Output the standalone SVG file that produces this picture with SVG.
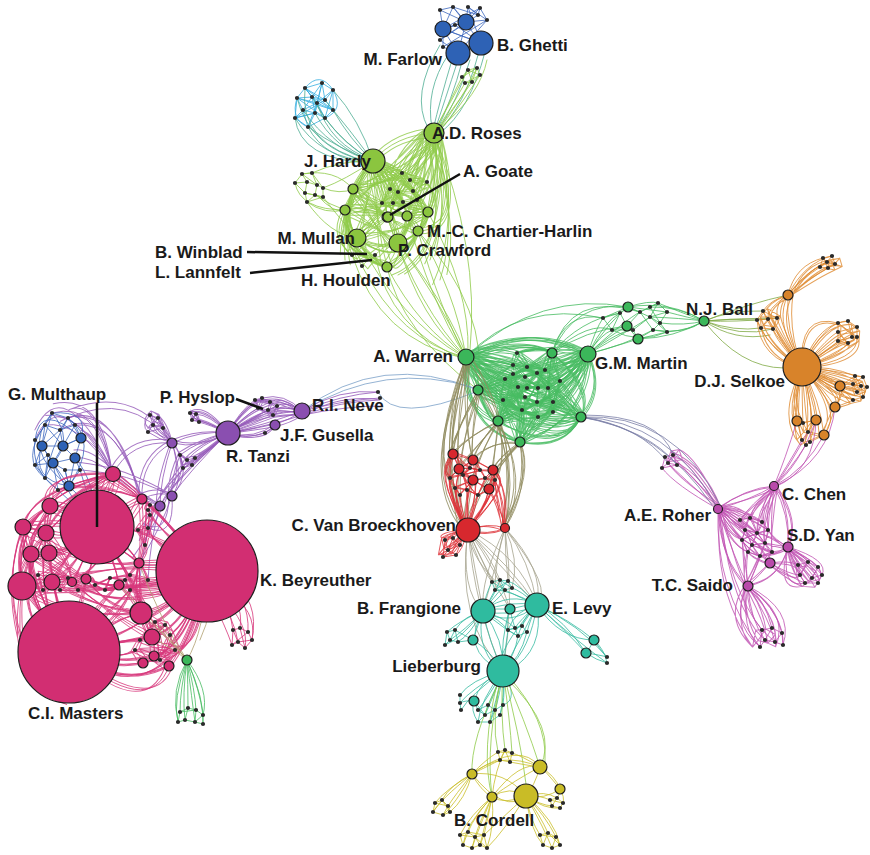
<svg xmlns="http://www.w3.org/2000/svg" width="870" height="855" viewBox="0 0 870 855">
<style>
.e{fill:none;stroke-width:1;stroke-opacity:.8;stroke-linecap:round}
.cy{stroke:#35aee0}.tg{stroke:#4fae93}.bl{stroke:#3d68be}.lg{stroke:#8fca48}.gr{stroke:#47bb62}.og{stroke:#7faa45}.or{stroke:#df8a30}.mg{stroke:#c052b3}.gb{stroke:#7c7fa8}.nb{stroke:#7aa0c8}.ol{stroke:#8e8a5c}.rd{stroke:#dd3036}.gy{stroke:#a6a48e}.tl{stroke:#38bca2}.yl{stroke:#cbbf2a}.pu{stroke:#9457b8}.pk{stroke:#d7367a}.tn{stroke:#b0a070}
.n{stroke:#1e1e1e;stroke-width:1.2}
.b{fill:#2e62b5}.h{fill:#8bc53f}.g{fill:#3bb75a}.o{fill:#d8832a}.r{fill:#d7282e}.t{fill:#2fbb9f}.y{fill:#c9bc26}.p{fill:#d22e72}.v{fill:#8a4fb0}.m{fill:#b94aab}
.dots{fill:none;stroke:#2a2a2a;stroke-width:4.2;stroke-linecap:round}
.lead{stroke:#111;stroke-width:2.5;fill:none}
text{font-family:"Liberation Sans",Arial,sans-serif;font-weight:bold;font-size:17px;fill:#1a1a1a}
</style>
<g id="connectors">
<path class="e cy" d="M305,88L322,83L333,90L325,100L312,97L297,98L303,110L315,113L325,118L333,110L317,103L305,88L312,97L322,83L325,100L333,110 M297,98L305,88L317,103L303,110L295,118L308,127L315,113L317,103L325,118L308,127 M325,118L333,90L317,103L297,98L295,118L315,113L312,97L333,110L333,90 M322,83L317,103L308,127L303,110L312,97L325,118L297,98L333,110L305,88L325,100L295,118L315,113L322,83 M305,88Q320,70 333,90 M297,98Q290,120 308,127 M333,90Q345,110 325,118"/>
<path class="e tg" d="M303,110Q330,150 373,161 M308,127Q340,150 373,161 M325,118Q345,145 373,161 M333,110Q350,140 373,161 M295,118Q320,160 373,161 M315,113Q335,150 373,161 M297,98Q310,150 370,162 M333,90Q360,120 373,161 M325,100Q350,130 373,161 M305,88Q298,145 370,162 M317,103Q330,145 372,160 M308,127Q325,160 371,163 M295,118Q300,160 370,163 M312,97Q335,140 372,160"/>
<path class="e bl" d="M440,10L466,22L453,7L481,43L468,7L487,20L458,53L443,29L480,8L478,15L440,40L466,22L487,20L443,47L458,53L481,43L443,29L466,22 M440,10L443,29L453,7L478,15L468,7L466,22L480,8L487,20 M440,40L458,53L466,22 M443,47L443,29L481,43 M440,10L453,7 M455,25L466,22L443,29L455,25L481,43"/>
<path class="e tg" d="M458,60Q445,100 434,133 M462,62Q452,100 436,132 M470,60Q458,100 437,132 M478,55Q465,105 438,132 M485,52Q470,110 440,133 M448,55Q425,90 432,128 M440,45Q410,95 428,128 M452,60Q440,100 433,130"/>
<path class="e lg" d="M462,77L468,70L477,68L480,75L472,82L465,83L462,77L477,68L472,82L468,70L480,75L465,83 M462,77Q448,105 434,133 M472,82Q452,110 436,132 M480,75Q458,110 438,133 M477,68Q462,100 437,132 M465,83Q450,110 435,133 M468,70Q452,100 434,131 M440,128Q480,95 487,60"/>
<path id="hardy" class="e lg" d="M373,161Q355,180 353,189 M373,161Q352,190 345,210 M373,161Q385,190 387,217 M373,161Q400,185 407,216 M373,161Q415,180 428,212 M373,161Q405,205 418,231 M373,161Q370,200 357,238 M373,161Q395,210 398,243 M373,161Q375,220 387,267 M373,161Q390,165 402,173 M373,161Q395,175 413,191 M373,161Q400,170 427,182 M373,161Q378,185 382,203 M373,161Q390,185 393,203 M373,161Q396,180 403,202 M373,161Q410,185 417,200 M434,133Q395,135 373,161 M434,133Q405,165 353,189 M434,133Q390,170 345,210 M434,133Q410,180 387,217 M434,133Q420,180 407,216 M434,133Q440,175 428,212 M434,133Q445,200 418,231 M434,133Q405,195 357,238 M434,133Q430,200 398,243 M434,133Q420,150 402,173 M434,133Q425,165 413,191 M434,133Q435,160 427,182 M434,133Q410,170 393,203 M434,133Q455,190 430,260 M434,133Q460,220 440,280 M434,133Q400,150 390,189 M434,133Q415,160 410,180 M353,189Q370,200 387,217 M353,189Q380,185 402,173 M345,210Q370,205 387,217 M345,210Q380,230 398,243 M345,210Q350,225 357,238 M357,238Q380,225 387,217 M357,238Q380,250 398,243 M357,238Q375,265 387,267 M387,217Q395,230 398,243 M407,216Q405,230 398,243 M428,212Q420,225 418,231 M418,231Q410,240 398,243 M387,217Q400,210 407,216 M407,216Q420,210 428,212 M387,267Q395,255 398,243 M387,267Q410,255 418,231 M353,189Q375,200 382,203 M382,203Q395,210 407,216 M393,203Q410,205 428,212 M403,202Q395,215 387,217 M417,200Q410,225 398,243 M390,189Q375,220 357,238 M398,192Q420,200 428,212 M413,191Q430,210 418,231 M427,182Q440,200 428,212 M402,173Q390,180 390,189 M410,180Q425,190 427,182 M362,266Q375,250 387,267 M352,255Q370,245 357,238 M375,255Q390,240 398,243 M345,210Q330,240 352,255 M353,189Q340,240 362,266 M345,210Q350,260 387,267 M353,189Q400,230 418,231 M345,210Q420,220 428,212 M357,238Q410,230 428,212 M357,238Q400,270 418,231 M373,161Q320,230 387,267 M434,133Q470,230 418,231 M353,189Q330,250 387,267 M345,210Q340,260 375,255 M402,173L410,180L427,182L413,191L398,192L390,189L402,173L413,191L417,200L403,202L393,203L382,203L390,189L403,202L398,192L393,203 M417,200L427,182 M382,203L398,192 M353,189Q395,260 398,243 M418,231Q395,275 387,267 M398,243Q430,230 428,212 M373,161Q340,215 345,260 M434,133Q450,250 398,275 M353,189Q420,180 434,133 M345,210Q400,200 428,212"/>
<use href="#hardy" transform="rotate(6 392 212)"/>
<use href="#hardy" transform="rotate(-6 392 212)"/>
<path class="e lg" d="M302,174L312,173L317,185L307,182L295,183L305,193L315,195L323,197L307,202L305,193L307,182L302,174L295,183 M312,173L323,188L317,185L315,195L307,202 M323,188L323,197L305,193 M302,174L317,185 M323,188Q340,195 353,189 M317,195Q335,215 345,210 M323,197Q345,225 357,238 M307,202Q330,235 357,238 M312,173Q340,160 373,161 M302,174Q335,168 353,189 M323,188Q345,180 373,161 M315,195Q330,205 345,210 M307,202Q325,215 345,210 M295,183Q300,210 345,210"/>
<path class="e lg" d="M387,267Q420,330 466,357 M398,243Q440,300 466,357 M418,231Q455,290 466,357 M428,212Q470,290 468,352 M407,216Q430,300 465,356 M357,238Q400,320 462,356 M375,255Q390,330 462,358 M362,266Q400,340 464,357 M387,267Q400,330 478,390 M398,243Q460,320 478,390 M418,231Q490,310 478,390 M434,133Q480,250 470,350 M352,255Q380,340 463,358 M387,217Q420,310 466,357 M398,243Q420,320 466,357 M418,231Q440,310 466,357"/>
<path id="cgreen" class="e gr" d="M466,357Q490,345 517,353 M466,357Q495,355 527,367 M466,357Q490,365 513,374 M466,357Q495,370 525,377 M466,357Q500,360 537,373 M466,357Q505,355 545,370 M466,357Q485,372 505,379 M466,357Q490,380 518,387 M466,357Q495,385 527,388 M466,357Q500,380 538,388 M466,357Q505,375 548,388 M466,357Q510,365 560,381 M466,357Q490,390 525,397 M466,357Q495,395 537,402 M466,357Q510,390 553,402 M466,357Q485,400 522,410 M466,357Q500,405 538,417 M466,357Q515,395 553,412 M466,357Q480,385 503,400 M466,357Q490,360 513,365 M588,354Q555,345 517,353 M588,354Q560,360 527,367 M588,354Q550,365 513,374 M588,354Q555,372 525,377 M588,354Q565,365 537,373 M588,354Q570,362 545,370 M588,354Q550,375 505,379 M588,354Q555,380 518,387 M588,354Q560,385 527,388 M588,354Q565,380 538,388 M588,354Q570,378 548,388 M588,354Q575,370 560,381 M588,354Q560,390 525,397 M588,354Q565,395 537,402 M588,354Q575,390 553,402 M588,354Q560,400 522,410 M588,354Q570,405 538,417 M588,354Q580,395 553,412 M588,354Q545,385 503,400 M581,417Q550,395 517,353 M581,417Q555,385 527,367 M581,417Q550,400 513,374 M581,417Q560,390 537,373 M581,417Q565,395 548,388 M581,417Q570,395 560,381 M581,417Q555,410 525,397 M581,417Q560,405 537,402 M581,417Q570,410 553,402 M581,417Q555,420 522,410 M581,417Q560,420 538,417 M581,417Q545,405 503,400 M581,417Q560,400 518,387 M552,353Q535,345 517,353 M552,353Q540,360 527,367 M552,353Q540,375 537,388 M552,353Q550,370 548,388 M552,353Q555,365 560,381 M552,353Q530,370 513,374 M552,353Q535,390 522,410 M552,353Q545,395 553,412 M478,390Q495,375 513,365 M478,390Q495,380 513,374 M478,390Q495,385 505,379 M478,390Q500,385 518,387 M478,390Q500,395 525,397 M478,390Q510,395 537,402 M478,390Q490,400 503,400 M478,390Q500,405 522,410 M478,390Q510,410 538,417 M478,390Q520,385 548,388 M478,390Q520,375 545,370 M498,421Q505,405 503,400 M498,421Q510,410 522,410 M498,421Q515,420 538,417 M498,421Q520,405 537,402 M498,421Q510,400 518,387 M498,421Q520,395 527,388 M498,421Q525,410 553,412 M498,421Q500,395 505,379 M498,421Q510,390 513,374 M498,421Q525,385 537,373 M520,442Q520,425 522,410 M520,442Q530,425 538,417 M520,442Q540,425 553,412 M520,442Q525,420 525,397 M520,442Q535,420 537,402 M520,442Q510,420 503,400 M520,442Q545,420 553,402 M520,442Q525,410 518,387 M520,442Q540,410 548,388 M520,442Q520,400 513,365 M517,353L527,367L545,370L537,373L525,377L513,374L505,379L518,387L527,388L538,388L548,388L560,381L553,402L537,402L525,397L503,400L522,410L538,417L553,412L553,402L548,388L537,373L527,367L513,365L517,353L545,370L560,381L553,412 M513,365L525,377L538,388L537,402L522,410L505,379L527,388L537,373 M518,387L525,397L538,417 M503,400L518,387L513,374L527,367 M466,357Q525,325 588,354 M466,357Q527,335 552,353 M466,357Q530,320 588,354 M466,357Q465,430 520,442 M466,357Q460,410 498,421 M478,390Q490,430 520,442 M520,442Q565,450 581,417 M498,421Q555,455 581,417 M588,354Q605,390 581,417 M552,353Q595,390 581,417 M466,357Q540,445 581,417 M498,421Q560,400 588,354 M520,442Q590,420 588,354 M466,357Q475,375 478,390 M478,390Q485,410 498,421 M466,357Q530,340 552,353 M552,353Q570,345 588,354 M466,357Q520,450 581,417 M478,390Q560,460 581,417"/>
<use href="#cgreen" transform="rotate(5 530 392)"/>
<use href="#cgreen" transform="rotate(-5 530 392)"/>
<path class="e gr" d="M588,354Q595,330 603,318 M588,354Q600,335 612,330 M588,354Q605,320 620,313 M588,354Q610,320 628,307 M588,354Q610,335 627,326 M588,354Q620,345 638,339 M588,354Q620,330 633,330 M588,354Q625,320 640,312 M588,354Q630,330 650,317 M588,354Q625,345 653,330 M552,353Q565,310 603,318 M552,353Q575,300 628,307 M552,353Q590,320 612,330 M552,353Q580,320 620,313 M552,353Q585,330 627,326 M466,357Q520,300 603,318 M603,318L620,313L628,307L640,312L650,307L658,303L667,312L660,323L667,332L653,330L638,339L633,330L627,326L612,330L603,318L628,307L650,317L660,323L653,330L640,312L627,326L620,313L612,330L633,330L650,317L658,303L640,312 M628,307L667,312L650,317L667,332L638,339L627,326 M650,307L660,323 M628,307Q650,300 658,303 M612,330Q640,345 667,332 M667,312Q690,318 704,321 M660,323Q685,326 704,321 M658,303Q680,312 704,321 M667,332Q690,330 704,321 M650,317Q680,318 704,321 M638,339Q675,338 704,321 M650,307Q680,306 704,321 M628,307Q670,300 704,321 M653,330Q685,335 704,321 M552,353Q570,290 640,312 M466,357Q540,290 628,307"/>
<path class="e og" d="M704,321Q730,318 757,320 M704,321Q735,332 761,328 M704,321Q730,310 763,311 M704,321Q738,322 768,319 M704,321Q740,338 773,329 M704,321Q742,318 777,318 M704,321Q740,368 784,368 M704,321Q750,303 788,295 M704,321Q735,342 770,335"/>
<path id="orng" class="e or" d="M802,368Q785,330 788,295 M795,352Q775,320 788,295 M788,295Q795,265 823,258 M788,295Q805,262 832,256 M788,295Q815,275 828,268 M788,295Q800,280 820,267 M788,295Q815,260 835,264 M788,295Q810,268 827,262 M823,258L832,256L835,264L828,268L820,267L823,258L827,262L835,264 M832,256L827,262L820,267 M823,258L828,268 M802,368Q770,350 761,328 M802,368Q775,340 773,329 M802,368Q780,330 777,318 M802,368Q765,345 757,320 M802,368Q778,335 768,319 M802,368Q770,330 763,311 M788,295Q775,300 777,318 M788,295Q770,300 763,311 M788,295Q765,310 768,319 M763,311L768,319L777,318L773,329L761,328L757,320L763,311L777,318 M757,320L768,319L773,329 M761,328L768,319 M802,368Q760,360 757,320 M802,368Q815,330 838,323 M802,368Q830,335 838,332 M802,368Q835,345 838,341 M802,368Q825,320 848,321 M802,368Q840,340 852,337 M802,368Q845,330 857,327 M802,368Q845,350 857,337 M802,368Q840,355 848,343 M802,368Q798,312 838,323 M802,368Q860,360 857,337 M838,323L848,321L857,327L857,337L848,343L838,341L838,332L838,323L857,337 M848,321L852,337L838,341 M838,332L857,327 M838,332L848,343 M802,368Q825,372 840,386 M802,368Q830,365 855,376 M802,368Q835,370 863,377 M802,368Q830,380 853,384 M802,368Q835,385 861,386 M802,368Q840,390 857,392 M802,368Q840,395 863,397 M802,368Q830,395 853,400 M802,368Q840,375 867,387 M855,376L863,377L867,387L863,397L853,400L840,386L855,376L861,386L853,384L857,392L867,387 M853,384L863,377 M840,386L857,392 M861,386L863,397 M802,368Q825,390 835,407 M802,368Q795,400 797,421 M802,368Q812,395 816,420 M802,368Q820,400 824,435 M802,368Q790,400 803,423 M802,368Q805,410 808,432 M802,368Q795,420 802,440 M802,368Q815,410 810,442 M802,368Q845,410 824,435 M802,368Q850,395 835,407 M802,368Q780,420 806,445 M797,421L803,423L816,420L808,432L824,435L810,442L806,445L802,440L797,421 M803,423L808,432L802,440 M816,420L810,442 M835,407Q845,395 840,386 M835,407Q850,402 853,400 M835,407Q830,425 824,435"/>
<use href="#orng" transform="rotate(4 802 368)"/>
<path class="e mg" d="M797,421Q785,460 774,486 M816,420Q800,465 774,486 M824,435Q805,470 776,485 M808,432Q790,465 775,486 M806,445Q790,470 774,486 M835,407Q830,460 776,486 M802,440Q785,470 774,486 M816,420Q815,470 775,487"/>
<path id="roher" class="e mg" d="M718,509Q730,512 740,520 M718,509Q735,505 750,518 M718,509Q740,508 762,522 M718,509Q730,525 745,530 M718,509Q740,522 757,533 M718,509Q745,515 768,530 M718,509Q725,535 742,540 M718,509Q735,538 752,545 M718,509Q745,530 765,543 M718,509Q745,540 772,552 M718,509Q728,545 748,552 M718,509Q740,545 760,556 M774,486Q755,500 750,518 M774,486Q760,505 762,522 M774,486Q765,510 768,530 M774,486Q750,505 740,520 M774,486Q755,515 757,533 M774,486Q770,520 772,552 M774,486Q760,525 765,543 M774,486Q745,515 745,530 M718,509Q745,488 774,486 M718,509Q750,500 774,486 M774,486Q790,515 788,547 M774,486Q800,520 788,547 M740,520L750,518L762,522L768,530L757,533L745,530L740,520L757,533L765,543L772,552L760,556L748,552L742,540L745,530L752,545L765,543L768,530 M750,518L757,533L752,545L760,556 M742,540L757,533L762,522 M748,552L752,545L772,552 M788,547Q775,540 768,530 M788,547Q775,545 765,543 M788,547Q780,552 772,552 M788,547Q775,555 760,556 M788,547Q770,535 757,533 M788,547Q795,555 798,565 M788,547Q800,552 808,562 M788,547Q805,555 818,567 M788,547Q810,560 822,575 M788,547Q800,565 812,578 M788,547Q792,565 800,575 M788,547Q798,575 805,583 M788,547Q810,570 818,583 M788,547Q830,560 822,575 M788,547Q780,590 805,583 M798,565L808,562L818,567L822,575L818,583L805,583L800,575L798,565L812,578L818,567 M808,562L800,575 M812,578L805,583 M812,578L822,575 M770,563Q790,560 798,565 M770,563Q790,575 800,575 M770,563Q795,580 805,583 M770,563Q765,555 760,556 M770,563Q768,555 772,552 M770,563Q755,560 748,552 M748,586Q745,570 748,552 M748,586Q755,570 760,556 M748,586Q760,575 770,563 M748,586Q745,560 742,540 M748,586Q760,560 765,543 M748,586Q745,610 762,630 M748,586Q765,600 772,628 M748,586Q775,605 782,633 M748,586Q750,620 765,640 M748,586Q770,620 775,642 M748,586Q785,615 783,645 M748,586Q740,630 760,647 M748,586Q728,620 760,647 M748,586Q795,610 783,645 M762,630L772,628L782,633L783,645L775,642L765,640L760,647L762,630L775,642 M772,628L765,640 M782,633L775,642 M718,509Q720,560 748,586 M718,509Q735,560 748,586 M718,509Q760,540 770,563 M718,509Q715,590 760,647 M718,509Q730,590 762,630 M788,547Q780,580 748,586 M718,509Q690,470 677,465 M718,509Q680,475 668,463 M718,509Q690,460 673,455 M718,509Q675,485 662,468 M718,509Q700,470 665,457 M665,457L673,455L677,465L668,463L662,468L665,457L668,463L673,455 M677,465L662,468"/>
<use href="#roher" transform="rotate(4 755 540)"/>
<path class="e gb" d="M581,417Q670,420 718,509 M581,417Q660,428 712,505 M581,417Q650,430 677,465 M583,415Q660,415 673,455 M581,417Q640,425 668,463 M581,417Q675,412 720,505"/>
<path class="e nb" d="M302,411Q380,350 478,390 M378,392Q395,425 478,391 M302,411Q385,360 475,388"/>
<path id="olive" class="e ol" d="M466,357Q432,450 468,530 M466,357Q440,455 462,525 M466,357Q448,430 453,454 M466,357Q455,430 459,469 M466,357Q462,420 473,460 M478,390Q455,430 453,454 M478,390Q470,440 473,460 M478,390Q448,480 468,530 M498,421Q470,435 453,454 M498,421Q480,440 473,460 M498,421Q495,450 493,470 M498,421Q470,455 459,469 M520,442Q490,440 473,460 M520,442Q500,455 493,470 M520,442Q495,470 489,489 M520,442Q530,490 505,528 M498,421Q530,480 505,528 M466,357Q525,440 505,528 M478,390Q520,450 505,528 M520,442Q480,480 468,530 M498,421Q510,470 489,489 M466,357Q420,470 462,525 M466,357Q428,460 455,488 M478,390Q440,460 450,478 M520,442Q535,470 505,528 M498,421Q465,480 468,530"/>
<use href="#olive" transform="rotate(3 485 445)"/>
<path id="red" class="e rd" d="M453,454L473,460L493,470L489,489L473,480L459,469L453,454L463,475L480,470L485,478L473,480L455,488L450,478L459,469L473,460L480,470L493,470L495,480L489,489L478,495L467,490L455,488L460,495L473,480L463,475L473,460 M470,468L459,469 M470,468L480,470 M470,468L463,475 M485,478L495,480 M450,478L463,475L467,490L478,495L485,478L493,470 M453,454Q440,475 450,478 M453,454Q465,470 480,470 M459,469Q470,490 478,495 M468,530Q455,500 455,488 M468,530Q460,505 460,495 M468,530Q468,505 467,490 M468,530Q475,510 478,495 M468,530Q485,510 489,489 M468,530Q465,495 473,480 M468,530Q445,490 450,478 M468,530Q440,480 453,454 M468,530Q490,500 495,480 M468,530Q500,490 493,470 M468,530Q480,490 473,460 M468,530Q430,470 453,454 M468,530Q515,480 493,470 M468,530Q450,500 459,469 M468,530Q488,522 505,528 M468,530Q488,536 505,528 M505,528Q500,505 489,489 M505,528Q505,500 495,480 M505,528Q495,490 493,470 M505,528Q510,490 493,470 M468,530Q455,535 453,538 M468,530Q450,535 445,540 M468,530Q462,540 460,545 M468,530Q455,548 448,550 M468,530Q462,552 456,555 M468,530Q452,555 443,557 M468,530Q440,535 445,540 M445,540L453,538L460,545L456,555L448,550L443,557L445,540L448,550L460,545 M453,538L448,550 M456,555L443,557"/>
<use href="#red" transform="rotate(4 472 490)"/>
<path class="e gy" d="M468,530Q475,570 483,611 M468,530Q495,560 537,605 M468,530Q485,570 510,609 M468,530Q475,610 503,671 M505,528Q530,560 537,605 M505,528Q495,570 483,611 M505,528Q515,600 503,671 M468,530Q520,555 537,605 M468,530Q482,560 492,582 M468,530Q490,555 500,580 M505,528Q505,555 508,581 M505,528Q495,560 495,590 M468,530Q460,590 483,611 M505,528Q545,570 537,605 M468,530Q470,560 505,590 M468,530Q455,620 503,671 M505,528Q555,590 537,605 M505,528Q520,560 512,588 M468,530Q500,575 510,609 M505,528Q480,580 483,611 M468,530Q510,565 537,605 M468,530Q478,565 492,582"/>
<path class="e tl" d="M492,582L500,580L508,581L512,588L505,590L495,590L492,582L505,590L500,580L512,588 M508,581L495,590 M483,611Q485,595 492,582 M483,611Q495,595 500,580 M483,611Q498,600 505,590 M483,611Q490,600 495,590 M483,611Q500,590 508,581 M537,605Q520,590 512,588 M537,605Q520,585 508,581 M537,605Q515,595 505,590 M537,605Q510,590 495,590 M483,611Q510,600 537,605 M483,611Q510,618 537,605 M483,611Q510,628 537,605 M483,611Q497,608 510,609 M510,609Q523,605 537,605 M483,611Q510,590 537,605 M483,611Q465,615 455,630 M483,611Q460,620 447,632 M483,611Q465,630 450,640 M483,611Q470,635 458,642 M483,611Q460,640 445,645 M483,611Q478,625 473,640 M447,632L455,630L458,642L450,640L445,645L447,632L450,640 M455,630L473,640L458,642 M455,630L450,640 M483,611Q500,620 508,630 M483,611Q505,618 515,628 M483,611Q505,630 518,636 M537,605Q525,615 522,626 M537,605Q530,620 527,632 M537,605Q520,620 515,628 M537,605Q520,625 518,636 M537,605Q515,610 508,630 M508,630L515,628L522,626L527,632L518,636L508,630L522,626 M515,628L518,636 M510,609Q512,620 515,628 M510,609Q505,620 508,630 M483,611Q490,645 503,671 M483,611Q505,640 503,671 M483,611Q475,645 497,668 M537,605Q520,640 503,671 M537,605Q530,650 508,668 M537,605Q505,640 500,662 M510,609Q500,640 503,671 M473,640Q490,650 503,671 M518,636Q515,655 503,671 M527,632Q520,660 503,671 M508,630Q505,650 503,671 M483,611Q460,650 500,670 M537,605Q545,650 510,670 M537,605Q570,620 594,640 M537,605Q565,630 586,653 M537,605Q580,625 607,657 M537,605Q575,640 607,663 M537,605Q560,640 594,640 M537,605Q565,620 586,653 M594,640Q600,650 607,657 M586,653Q596,660 607,663 M594,640Q590,648 586,653 M594,640Q605,650 607,663 M586,653Q600,655 607,657 M503,671Q495,690 488,705 M503,671Q490,695 478,710 M503,671Q500,695 495,710 M503,671Q492,700 485,715 M503,671Q505,695 500,715 M503,671Q495,705 490,722 M503,671Q480,700 478,722 M503,671Q505,690 503,705 M503,671Q480,680 474,701 M503,671Q470,680 460,695 M503,671Q470,690 460,703 M503,671Q470,695 461,710 M503,671Q520,700 503,705 M478,710L488,705L495,710L503,705L500,715L490,722L478,722L485,715L478,710 M488,705L485,715L495,710L490,722 M474,701L478,710 M474,701L485,715 M460,695L460,703L461,710 M474,701Q465,700 460,703 M474,701Q470,710 478,722"/>
<path class="e lg" d="M503,671Q525,720 540,767 M503,671Q500,715 505,750 M503,671Q490,720 498,752 M503,671Q485,740 492,797 M503,671Q520,735 526,784 M508,676Q548,720 545,762 M503,671Q510,720 512,753 M500,680Q470,740 472,774 M506,678Q560,730 540,767 M498,680Q480,750 492,797"/>
<path class="e yl" d="M498,752L505,750L512,753L510,762L500,760L498,752L512,753 M505,750L500,760 M505,750L510,762 M472,774Q485,760 498,752 M472,774Q490,765 500,760 M472,774Q505,770 526,796 M472,774Q500,750 540,767 M472,774Q480,790 492,797 M540,767Q520,755 512,753 M540,767Q525,765 510,762 M540,767Q535,785 526,796 M540,767Q555,775 560,789 M540,767Q515,780 492,797 M492,797Q510,785 526,796 M492,797Q505,805 526,796 M492,797Q495,770 505,750 M472,774Q450,785 442,800 M472,774Q445,790 435,803 M472,774Q455,795 448,806 M472,774Q440,800 433,812 M472,774Q455,805 443,815 M472,774Q465,800 450,812 M435,803L442,800L448,806L450,812L443,815L433,812L435,803L448,806L443,815 M442,800L433,812 M442,800L450,812 M492,797Q470,815 460,835 M492,797Q475,815 468,832 M492,797Q480,820 475,837 M492,797Q488,818 484,835 M492,797Q465,825 463,845 M492,797Q478,830 472,848 M492,797Q485,825 480,845 M492,797Q495,825 487,848 M460,835L468,832L475,837L484,835L487,848L480,845L472,848L463,845L460,835L475,837L480,845 M468,832L463,845 M484,835L480,845 M472,848L475,837L487,848 M468,832L484,835 M526,796Q530,820 540,835 M526,796Q540,815 548,833 M526,796Q545,815 556,837 M526,796Q530,830 543,845 M526,796Q545,830 552,848 M526,796Q555,820 560,845 M540,835L548,833L556,837L560,845L552,848L543,845L540,835L556,837L552,848 M548,833L543,845 M548,833L560,845 M526,796Q540,795 550,800 M526,796Q545,790 557,798 M526,796Q540,805 552,806 M526,796Q545,810 560,808 M560,789Q560,795 557,798 M560,789Q565,797 563,803 M550,800L557,798L563,803L560,808L552,806L550,800L563,803 M557,798L552,806 M526,796Q500,820 484,835 M526,796Q505,830 487,848 M472,774Q520,740 540,767 M492,797Q520,760 540,767 M472,774Q505,815 526,796 M560,789Q545,770 540,767 M560,789Q545,800 526,796"/>
<path id="purp" class="e pu" d="M228,433Q265,410 302,411 M228,433Q265,425 302,411 M228,433Q270,400 302,411 M228,433Q240,410 255,400 M228,433Q245,405 262,398 M228,433Q250,410 270,402 M228,433Q245,415 258,408 M228,433Q250,420 268,410 M228,433Q255,415 277,406 M228,433Q250,425 273,415 M302,411Q285,400 277,406 M302,411Q280,395 270,402 M302,411Q285,412 273,415 M302,411Q280,405 268,410 M302,411Q285,392 262,398 M302,411Q280,398 255,400 M302,411Q290,420 275,424 M228,433Q250,430 275,424 M228,433Q255,440 275,424 M228,433Q245,440 265,433 M275,424Q270,430 265,433 M255,400L262,398L270,402L277,406L273,415L268,410L258,408L255,400L270,402L268,410L277,406 M262,398L258,408L273,415 M228,433Q210,415 196,414 M228,433Q205,420 192,420 M228,433Q210,425 199,422 M228,433Q205,405 190,413 M190,413L196,414L199,422L192,420L190,413L199,422 M196,414L192,420 M228,433Q200,430 172,443 M228,433Q200,450 172,443 M172,443Q160,430 163,428 M172,443Q158,425 158,418 M172,443Q155,435 153,425 M172,443Q160,440 148,432 M172,443Q165,420 150,415 M150,415L158,418L163,428L148,432L153,425L150,415 M158,418L153,425L163,428 M150,415Q140,425 148,432 M228,433Q200,445 187,460 M228,433Q205,455 192,465 M228,433Q200,460 183,468 M228,433Q210,450 195,458 M228,433Q200,440 180,455 M180,455L187,460L195,458L192,465L183,468L180,455L192,465 M187,460L183,468 M228,433Q190,470 172,496 M228,433Q180,470 160,506 M172,443Q185,480 172,496 M172,443Q160,480 160,506 M172,443Q195,470 172,496 M180,455Q170,480 172,496 M183,468Q168,490 160,506 M172,496Q140,480 113,474 M160,506Q130,490 113,474 M172,496Q160,530 139,563 M160,506Q150,520 145,545 M172,496Q160,490 142,499 M160,506Q145,500 142,499 M160,506Q150,540 148,580 M172,496Q175,540 148,528 M172,443Q130,440 113,474 M172,443Q140,460 142,499 M113,474Q100,400 52,413 M113,474Q95,405 68,418 M113,474Q80,420 45,425 M113,474Q60,380 35,440 M113,474Q95,440 81,438 M113,474Q90,455 75,458 M142,499Q120,420 75,425 M142,499Q110,400 60,430 M113,474Q85,470 80,470 M172,443Q130,390 68,418 M302,411Q340,388 378,392 M302,411Q345,400 380,398 M302,411Q340,395 378,392"/>
<use href="#purp" transform="rotate(3 228 433)"/>
<path class="e bl" d="M42,446L63,446L81,438L75,458L53,463L42,446L52,413L68,418L81,438L63,446L53,463L69,486L75,458L63,446L45,425L60,430L75,425L81,438 M35,440L42,446L48,455L35,465L53,463L65,470L80,470L75,458 M45,478L53,463L58,490L69,486L65,470 M52,413L45,425L35,440 M68,418L60,430L63,446L75,425L68,418 M35,465L45,478L58,490 M48,455L53,463 M42,446L35,465 M60,430L42,446 M45,425L42,446 M48,455L45,478 M65,470L69,486L80,470 M69,486Q20,450 52,413 M81,438Q40,400 35,440 M69,486Q100,440 68,418 M42,446Q30,480 69,486 M52,413Q90,410 81,438 M35,440Q30,470 58,490 M45,425Q20,460 45,478 M69,486Q85,500 97,527 M75,458Q95,480 97,527 M53,463Q70,500 97,527 M80,470Q90,500 97,527 M58,490Q80,510 97,527 M52,413Q75,440 53,463 M68,418Q50,450 45,478"/>
<path id="pink" class="e pk" d="M97,527Q60,500 50,506 M97,527Q60,520 23,527 M97,527Q70,540 46,533 M97,527Q60,560 31,554 M97,527Q75,555 49,553 M97,527Q50,580 22,586 M97,527Q70,575 52,582 M97,527Q80,570 72,582 M97,527Q95,560 86,579 M97,527Q115,560 119,585 M97,527Q125,540 139,563 M97,527Q125,505 142,499 M97,527Q120,480 113,474 M97,527Q140,590 141,613 M97,527Q150,600 152,637 M207,571Q170,560 139,563 M207,571Q160,590 119,585 M207,571Q140,600 86,579 M207,571Q130,620 72,582 M207,571Q170,610 141,613 M207,571Q180,630 152,637 M207,571Q185,650 154,656 M207,571Q175,660 143,663 M207,571Q190,640 169,666 M207,571Q160,510 142,499 M207,571Q150,500 113,474 M207,571Q100,600 22,586 M207,571Q120,560 52,582 M207,571Q140,520 97,527 M207,571Q150,545 148,528 M207,571Q160,530 150,515 M207,571Q165,580 148,580 M207,571Q170,600 130,590 M207,571Q165,620 155,622 M207,571Q190,620 170,635 M207,571Q200,650 175,650 M207,571Q190,665 160,660 M69,652Q100,600 119,585 M69,652Q110,620 141,613 M69,652Q120,640 152,637 M69,652Q120,665 154,656 M69,652Q110,670 143,663 M69,652Q120,690 169,666 M69,652Q40,610 22,586 M69,652Q60,610 52,582 M69,652Q80,610 86,579 M69,652Q150,630 207,571 M69,652Q30,580 31,554 M69,652Q50,570 49,553 M69,652Q20,560 23,527 M69,652Q130,620 139,563 M69,652Q120,600 130,590 M69,652Q125,660 135,650 M69,652Q130,640 140,640 M69,652Q140,700 175,650 M50,506Q0,580 69,652 M23,527Q-5,600 40,690 M113,474Q10,500 22,586 M113,474Q40,470 50,506 M113,474Q30,490 23,527 M113,474Q60,500 46,533 M142,499Q60,470 50,506 M50,506Q30,600 69,652 M22,586Q10,680 60,702 M69,652Q150,720 169,666 M50,506Q10,530 22,586 M113,474Q20,520 31,554 M142,499Q90,470 113,474 M113,474Q5,560 22,586 M46,533Q0,620 69,652 M23,527Q35,528 46,533 M31,554Q40,552 49,553 M46,533Q48,543 49,553 M23,527Q25,540 31,554 M22,586Q35,583 52,582 M31,554Q25,570 22,586 M49,553Q52,570 52,582 M52,582Q62,582 72,582 M72,582Q80,580 86,579 M86,579Q100,585 119,585 M119,585Q130,575 139,563 M139,563Q140,590 141,613 M141,613Q148,625 152,637 M152,637Q155,645 154,656 M154,656Q150,662 143,663 M154,656Q162,662 169,666 M50,506Q35,515 23,527 M50,506Q48,520 46,533 M142,499Q145,530 139,563 M113,474Q130,485 142,499 M22,586Q40,600 52,582 M49,553Q70,570 86,579 M46,533Q70,560 72,582 M31,554Q60,570 72,582 M119,585Q135,600 141,613 M139,563Q130,600 152,637 M86,579Q110,610 141,613 M72,582Q110,615 152,637 M52,582Q100,610 141,613 M68,578L78,590L95,585L105,590L110,578L125,580L130,590L148,580L130,575L110,578L95,585 M60,590L68,578 M38,575L43,590L60,590L78,590 M38,575L68,578 M125,580L148,580 M155,622L165,625L170,635L175,650L160,660L135,650L140,640L155,622L170,635L160,660 M140,640L165,625 M135,650L175,650 M140,640L175,650 M155,622L160,660 M145,545L148,528L138,530L150,515L148,510L150,505 M138,530L145,545L150,515 M148,528L150,505 M86,579Q95,575 95,585 M119,585Q115,592 105,590 M139,563Q145,570 148,580 M141,613Q150,618 155,622 M152,637Q162,630 165,625 M154,656Q165,655 175,650 M143,663Q140,655 135,650 M142,499Q148,505 150,505 M139,563Q148,550 145,545 M22,586Q60,620 141,613 M31,554Q90,600 119,585 M23,527Q80,570 139,563 M50,506Q110,540 139,563 M113,474Q90,520 52,582 M142,499Q100,570 72,582 M69,652Q25,600 31,554"/>
<use href="#pink" transform="rotate(3 110 575)"/>
<use href="#pink" transform="rotate(-3 110 575)"/>
<path class="e pk" d="M207,571Q228,590 233,630 M215,575Q245,600 240,628 M220,580Q250,595 248,632 M225,590Q258,610 252,640 M215,590Q235,620 238,642 M220,595Q250,625 245,648 M212,600Q225,625 232,645 M230,580Q260,600 252,640 M233,630L240,628L248,632L252,640L245,648L238,642L232,645L233,630L238,642L252,640 M240,628L245,648 M248,632L232,645"/>
<path class="e tn" d="M207,571Q205,630 187,660 M139,563Q160,620 187,660 M160,625Q175,645 187,660 M141,613Q170,640 187,660 M152,637Q175,650 187,660 M207,571Q215,610 200,640 M119,585Q170,640 187,660"/>
<path class="e gr" d="M187,660Q180,690 180,712 M187,660Q188,685 188,708 M187,660Q195,690 196,710 M187,660Q200,690 203,715 M187,660Q182,695 185,720 M187,660Q192,700 195,722 M187,660Q172,700 178,722 M187,660Q205,700 203,724 M187,660Q170,690 178,722 M187,660Q210,690 203,715 M180,712L188,708L196,710L203,715L203,724L195,722L185,720L178,722L180,712L196,710L195,722 M188,708L185,720 M203,715L195,722"/>
</g>
<g id="cluster-circles">
<circle class="n b" cx="443" cy="29" r="8"/><circle class="n b" cx="466" cy="22" r="8"/>
<circle class="n h" cx="353" cy="189" r="5"/><circle class="n h" cx="345" cy="210" r="5"/><circle class="n h" cx="387" cy="217" r="5"/><circle class="n h" cx="407" cy="216" r="5"/><circle class="n h" cx="428" cy="212" r="5"/><circle class="n h" cx="387" cy="267" r="5"/>
<circle class="n g" cx="552" cy="353" r="5"/><circle class="n g" cx="478" cy="390" r="5"/><circle class="n g" cx="498" cy="421" r="5"/><circle class="n g" cx="520" cy="442" r="5"/><circle class="n g" cx="581" cy="417" r="5"/><circle class="n g" cx="628" cy="307" r="5"/><circle class="n g" cx="627" cy="326" r="5"/><circle class="n g" cx="638" cy="339" r="5"/><circle class="n g" cx="187" cy="660" r="5"/>
<circle class="n o" cx="788" cy="295" r="5"/><circle class="n o" cx="840" cy="386" r="5"/><circle class="n o" cx="835" cy="407" r="5"/><circle class="n o" cx="797" cy="421" r="5"/><circle class="n o" cx="816" cy="420" r="5"/><circle class="n o" cx="824" cy="435" r="5"/>
<circle class="n m" cx="770" cy="563" r="5"/>
<circle class="n r" cx="453" cy="454" r="5"/><circle class="n r" cx="473" cy="460" r="5"/><circle class="n r" cx="459" cy="469" r="5"/><circle class="n r" cx="493" cy="470" r="5"/><circle class="n r" cx="473" cy="480" r="5"/><circle class="n r" cx="489" cy="489" r="5"/><circle class="n r" cx="505" cy="528" r="4.5"/>
<circle class="n t" cx="510" cy="609" r="5"/><circle class="n t" cx="473" cy="640" r="5"/><circle class="n t" cx="594" cy="640" r="5"/><circle class="n t" cx="586" cy="653" r="5"/><circle class="n t" cx="474" cy="701" r="5"/>
<circle class="n y" cx="540" cy="767" r="7"/><circle class="n y" cx="472" cy="774" r="5"/><circle class="n y" cx="492" cy="797" r="5"/><circle class="n y" cx="560" cy="789" r="5"/>
<circle class="n v" cx="172" cy="443" r="5"/><circle class="n v" cx="172" cy="496" r="5"/><circle class="n v" cx="160" cy="506" r="5"/>
<circle class="n b" cx="42" cy="446" r="5"/><circle class="n b" cx="63" cy="446" r="5"/><circle class="n b" cx="81" cy="438" r="5"/><circle class="n b" cx="53" cy="463" r="5"/><circle class="n b" cx="75" cy="458" r="5"/><circle class="n b" cx="69" cy="486" r="5"/>
<circle class="n p" cx="113" cy="474" r="7.5"/><circle class="n p" cx="50" cy="506" r="8"/><circle class="n p" cx="23" cy="527" r="8"/><circle class="n p" cx="46" cy="533" r="8"/><circle class="n p" cx="31" cy="554" r="8"/><circle class="n p" cx="49" cy="553" r="8"/><circle class="n p" cx="22" cy="586" r="14"/><circle class="n p" cx="52" cy="582" r="8"/><circle class="n p" cx="72" cy="582" r="4.5"/><circle class="n p" cx="86" cy="579" r="5"/><circle class="n p" cx="119" cy="585" r="5"/><circle class="n p" cx="139" cy="563" r="5"/><circle class="n p" cx="142" cy="499" r="5"/><circle class="n p" cx="141" cy="613" r="11"/><circle class="n p" cx="152" cy="637" r="8"/><circle class="n p" cx="154" cy="656" r="5"/><circle class="n p" cx="143" cy="663" r="5"/><circle class="n p" cx="169" cy="666" r="5"/>
</g>
<g id="small-nodes">
<path class="dots" d="M440,10h0M453,7h0M468,7h0M480,8h0M487,20h0M478,15h0M440,40h0M443,47h0M455,25h0 M462,77h0M468,70h0M477,68h0M480,75h0M472,82h0M465,83h0 M305,88h0M322,83h0M333,90h0M297,98h0M312,97h0M325,100h0M333,110h0M303,110h0M315,113h0M295,118h0M325,118h0M308,127h0M317,103h0 M302,174h0M312,173h0M295,183h0M307,182h0M317,185h0M305,193h0M315,195h0M323,197h0M307,202h0M323,188h0 M402,173h0M390,189h0M398,192h0M413,191h0M427,182h0M382,203h0M393,203h0M403,202h0M417,200h0M410,180h0M352,255h0M362,266h0M375,255h0 M517,353h0M527,367h0M513,374h0M525,377h0M537,373h0M545,370h0M505,379h0M518,387h0M527,388h0M538,388h0M548,388h0M560,381h0M525,397h0M537,402h0M553,402h0M522,410h0M538,417h0M553,412h0M503,400h0M513,365h0 M603,318h0M612,330h0M650,307h0M658,303h0M667,312h0M650,317h0M660,323h0M653,330h0M620,313h0M640,312h0M633,330h0M667,332h0 M823,258h0M832,256h0M835,264h0M828,268h0M820,267h0M827,262h0M763,311h0M768,319h0M777,318h0M773,329h0M761,328h0M757,320h0M838,323h0M848,321h0M857,327h0M838,332h0M852,337h0M857,337h0M838,341h0M848,343h0M855,376h0M863,377h0M853,384h0M861,386h0M867,387h0M857,392h0M863,397h0M853,400h0M803,423h0M808,432h0M802,440h0M810,442h0M806,445h0 M740,520h0M750,518h0M762,522h0M745,530h0M757,533h0M768,530h0M742,540h0M752,545h0M765,543h0M772,552h0M748,552h0M760,556h0M798,565h0M808,562h0M818,567h0M822,575h0M812,578h0M800,575h0M805,583h0M818,583h0M665,457h0M673,455h0M668,463h0M677,465h0M662,468h0M762,630h0M772,628h0M782,633h0M765,640h0M775,642h0M783,645h0M760,647h0 M450,478h0M463,475h0M480,470h0M485,478h0M455,488h0M467,490h0M478,495h0M495,480h0M460,495h0M470,468h0M445,540h0M453,538h0M460,545h0M448,550h0M456,555h0M443,557h0 M492,582h0M500,580h0M508,581h0M495,590h0M505,590h0M512,588h0M447,632h0M455,630h0M450,640h0M458,642h0M445,645h0M515,628h0M522,626h0M527,632h0M518,636h0M508,630h0M478,710h0M488,705h0M495,710h0M485,715h0M500,715h0M490,722h0M478,722h0M503,705h0M460,695h0M460,703h0M461,710h0M607,657h0M607,663h0 M498,752h0M505,750h0M512,753h0M500,760h0M510,762h0M435,803h0M442,800h0M448,806h0M433,812h0M443,815h0M450,812h0M460,835h0M468,832h0M475,837h0M484,835h0M463,845h0M472,848h0M480,845h0M487,848h0M540,835h0M548,833h0M556,837h0M543,845h0M552,848h0M560,845h0M550,800h0M557,798h0M563,803h0M552,806h0M560,808h0 M255,400h0M262,398h0M270,402h0M258,408h0M268,410h0M277,406h0M273,415h0M150,415h0M158,418h0M153,425h0M163,428h0M148,432h0M190,413h0M196,414h0M192,420h0M199,422h0M180,455h0M187,460h0M192,465h0M183,468h0M195,458h0M265,433h0M378,392h0M380,398h0 M52,413h0M68,418h0M45,425h0M60,430h0M75,425h0M35,440h0M48,455h0M35,465h0M65,470h0M80,470h0M45,478h0M58,490h0 M68,578h0M78,590h0M95,585h0M105,590h0M130,590h0M125,580h0M148,580h0M145,545h0M150,515h0M148,510h0M155,622h0M165,625h0M140,640h0M170,635h0M160,660h0M135,650h0M175,650h0M38,575h0M43,590h0M60,590h0M110,578h0M130,575h0M148,528h0M138,530h0M150,505h0 M233,630h0M240,628h0M248,632h0M252,640h0M238,642h0M245,648h0M232,645h0 M180,712h0M188,708h0M196,710h0M203,715h0M185,720h0M195,722h0M178,722h0M203,724h0"/>
</g>
<g id="nodes">
<g id="n-farlow"><circle class="n b" cx="458" cy="53" r="12"/><text x="442" y="65" text-anchor="end">M. Farlow</text></g>
<g id="n-ghetti"><circle class="n b" cx="481" cy="43" r="12"/><text x="497" y="51">B. Ghetti</text></g>
<g id="n-roses"><circle class="n h" cx="434" cy="133" r="10"/><text x="432" y="139">A.D. Roses</text></g>
<g id="n-hardy"><circle class="n h" cx="373" cy="161" r="12"/><text x="371" y="167" text-anchor="end">J. Hardy</text></g>
<g id="n-goate"><circle class="n h" cx="388" cy="217" r="5"/><path class="lead" d="M460,174L390,215"/><text x="463" y="177">A. Goate</text></g>
<g id="n-chartier"><circle class="n h" cx="418" cy="231" r="5"/><text x="427" y="237">M.-C. Chartier-Harlin</text></g>
<g id="n-mullan"><circle class="n h" cx="357" cy="238" r="9"/><text x="355" y="244" text-anchor="end">M. Mullan</text></g>
<g id="n-crawford"><circle class="n h" cx="398" cy="243" r="9"/><text x="398" y="256">P. Crawford</text></g>
<g id="n-winblad"><path class="lead" d="M247,252L367,254"/><text x="155" y="258">B. Winblad</text></g>
<g id="n-lannfelt"><path class="lead" d="M250,273L372,260"/><text x="155" y="278">L. Lannfelt</text></g>
<g id="n-houlden"><text x="301" y="286">H. Houlden</text></g>
<g id="n-ball"><circle class="n g" cx="704" cy="321" r="5"/><text x="686" y="315">N.J. Ball</text></g>
<g id="n-warren"><circle class="n g" cx="466" cy="357" r="8"/><text x="453" y="362" text-anchor="end">A. Warren</text></g>
<g id="n-martin"><circle class="n g" cx="588" cy="354" r="8"/><text x="595" y="369">G.M. Martin</text></g>
<g id="n-selkoe"><circle class="n o" cx="802" cy="367" r="19"/><text x="785" y="387" text-anchor="end">D.J. Selkoe</text></g>
<g id="n-multhaup"><circle class="n p" cx="97" cy="527" r="37"/><path class="lead" d="M97,403L97,527"/><text x="8" y="400">G. Multhaup</text></g>
<g id="n-hyslop"><path class="lead" d="M236,399L263,409"/><text x="235" y="403" text-anchor="end">P. Hyslop</text></g>
<g id="n-neve"><circle class="n v" cx="302" cy="411" r="8"/><text x="312" y="411">R.I. Neve</text></g>
<g id="n-gusella"><circle class="n v" cx="275" cy="425" r="5"/><text x="280" y="441">J.F. Gusella</text></g>
<g id="n-tanzi"><circle class="n v" cx="228" cy="433" r="12"/><text x="226" y="462">R. Tanzi</text></g>
<g id="n-chen"><circle class="n m" cx="774" cy="486" r="4.5"/><text x="782" y="500">C. Chen</text></g>
<g id="n-roher"><circle class="n m" cx="718" cy="509" r="4.5"/><text x="711" y="521" text-anchor="end">A.E. Roher</text></g>
<g id="n-yan"><circle class="n m" cx="788" cy="547" r="5"/><text x="787" y="541">S.D. Yan</text></g>
<g id="n-saido"><circle class="n m" cx="748" cy="586" r="5"/><text x="733" y="591" text-anchor="end">T.C. Saido</text></g>
<g id="n-vanbroeckhoven"><circle class="n r" cx="468" cy="530" r="12"/><text x="456" y="531" text-anchor="end">C. Van Broeckhoven</text></g>
<g id="n-beyreuther"><circle class="n p" cx="207" cy="571" r="51"/><text x="260" y="586">K. Beyreuther</text></g>
<g id="n-masters"><circle class="n p" cx="69" cy="652" r="51"/><text x="28" y="719">C.I. Masters</text></g>
<g id="n-frangione"><circle class="n t" cx="483" cy="611" r="12"/><text x="461" y="614" text-anchor="end">B. Frangione</text></g>
<g id="n-levy"><circle class="n t" cx="537" cy="605" r="12"/><text x="552" y="614">E. Levy</text></g>
<g id="n-lieberburg"><circle class="n t" cx="503" cy="671" r="16"/><text x="481" y="672" text-anchor="end">Lieberburg</text></g>
<g id="n-cordell"><circle class="n y" cx="526" cy="796" r="12"/><text x="454" y="826">B. Cordell</text></g>
</g>
</svg>
